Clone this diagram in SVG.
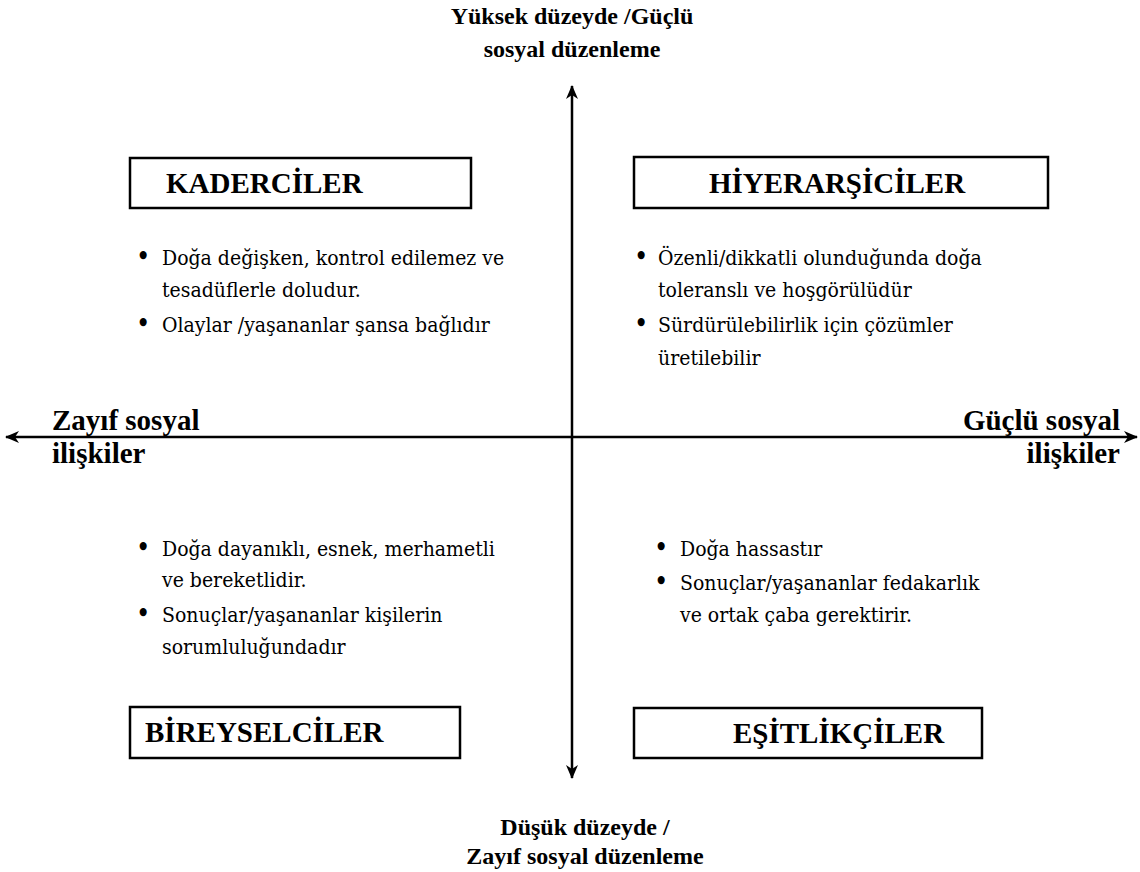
<svg xmlns="http://www.w3.org/2000/svg" width="1140" height="872" viewBox="0 0 1140 872">
<style>
.t{font-family:"Liberation Serif",serif;fill:#000}
.b{font-weight:bold;font-size:24px}
.l{font-weight:bold;font-size:29px}
.h{font-weight:bold;font-size:29px}
.x{font-family:"DejaVu Serif Condensed","DejaVu Serif",serif;font-stretch:condensed;font-size:21px;font-weight:400;fill:#000}
.bu{font-size:27px}
.box{fill:#fff;stroke:#000;stroke-width:2.5}
.ax{stroke:#000;stroke-width:2.5;fill:none}
</style>
<defs>
<marker id="ar" viewBox="0 0 14 12" refX="13" refY="6" markerWidth="14" markerHeight="12" markerUnits="userSpaceOnUse" orient="auto-start-reverse">
<path d="M0,0 L14,6 L0,12 L4,6 Z" fill="#000"/>
</marker>
</defs>
<g id="connectors">
<line class="ax" x1="572" y1="86" x2="572" y2="778" marker-start="url(#ar)" marker-end="url(#ar)"/>
<line class="ax" x1="6" y1="437" x2="1137" y2="437" marker-start="url(#ar)" marker-end="url(#ar)"/>
</g>
<g id="title-top">
<text class="t b" x="572" y="24" text-anchor="middle">Yüksek düzeyde /Güçlü</text>
<text class="t b" x="572" y="57" text-anchor="middle">sosyal düzenleme</text>
</g>
<g id="title-bottom">
<text class="t b" x="585" y="835" text-anchor="middle">Düşük düzeyde /</text>
<text class="t b" x="585" y="864" text-anchor="middle">Zayıf sosyal düzenleme</text>
</g>
<g id="label-left">
<text class="t l" x="52" y="430">Zayıf sosyal</text>
<text class="t l" x="52" y="463">ilişkiler</text>
</g>
<g id="label-right">
<text class="t l" x="1120" y="430" text-anchor="end">Güçlü sosyal</text>
<text class="t l" x="1120" y="463" text-anchor="end">ilişkiler</text>
</g>
<g id="kaderciler">
<rect class="box" x="130" y="158" width="341" height="50"/>
<text class="t h" x="166" y="193">KADERCİLER</text>
</g>
<g id="hiyerarsiciler">
<rect class="box" x="634" y="157" width="414" height="51"/>
<text class="t h" x="837" y="193" text-anchor="middle">HİYERARŞİCİLER</text>
</g>
<g id="bireyselciler">
<rect class="box" x="130" y="707" width="330" height="51"/>
<text class="t h" x="145" y="742">BİREYSELCİLER</text>
</g>
<g id="esitlikciler">
<rect class="box" x="634" y="708" width="348" height="50"/>
<text class="t h" x="733" y="743">EŞİTLİKÇİLER</text>
</g>
<g id="text-tl" class="x">
<text class="bu" x="136" y="266">•</text>
<text x="162" y="265">Doğa değişken, kontrol edilemez ve</text>
<text x="162" y="297">tesadüflerle doludur.</text>
<text class="bu" x="136" y="333">•</text>
<text x="162" y="332">Olaylar /yaşananlar şansa bağlıdır</text>
</g>
<g id="text-tr" class="x">
<text class="bu" x="634" y="266">•</text>
<text x="658" y="265">Özenli/dikkatli olunduğunda doğa</text>
<text x="658" y="297">toleranslı ve hoşgörülüdür</text>
<text class="bu" x="634" y="333">•</text>
<text x="658" y="332">Sürdürülebilirlik için çözümler</text>
<text x="658" y="365">üretilebilir</text>
</g>
<g id="text-bl" class="x">
<text class="bu" x="136" y="557">•</text>
<text x="162" y="556">Doğa dayanıklı, esnek, merhametli</text>
<text x="162" y="587">ve bereketlidir.</text>
<text class="bu" x="136" y="623">•</text>
<text x="162" y="622">Sonuçlar/yaşananlar kişilerin</text>
<text x="162" y="654">sorumluluğundadır</text>
</g>
<g id="text-br" class="x">
<text class="bu" x="654" y="557">•</text>
<text x="680" y="556">Doğa hassastır</text>
<text class="bu" x="654" y="591">•</text>
<text x="680" y="590">Sonuçlar/yaşananlar fedakarlık</text>
<text x="680" y="622">ve ortak çaba gerektirir.</text>
</g>
</svg>
